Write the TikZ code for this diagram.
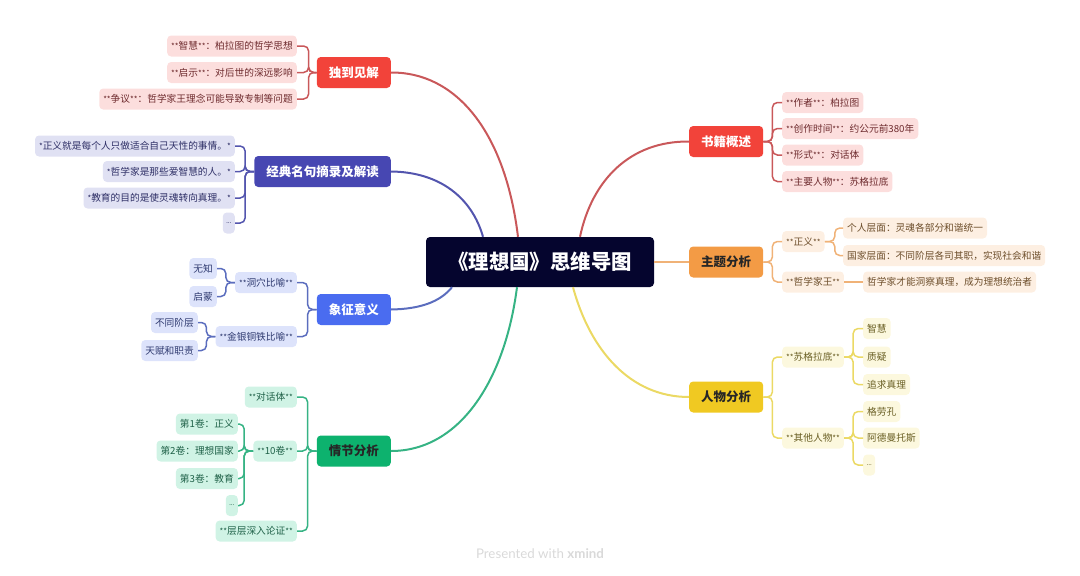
\documentclass[tikz,border=0pt]{standalone}
\usepackage{fontspec}
\setmainfont{Noto Sans CJK SC}
\newfontfamily\latinfont{Lato}
\newcommand{\mk}{{\fontsize{8}{12}\selectfont **}}
\newcommand{\sk}{{\fontsize{8}{12}\selectfont *}}
\definecolor{rootcol}{HTML}{05052E}
\definecolor{redcol}{HTML}{F2433A}
\definecolor{redline}{HTML}{C9585A}
\definecolor{redleafcol}{HTML}{FCDEDD}
\definecolor{redtext}{HTML}{6E2B2E}
\definecolor{indigocol}{HTML}{4747B2}
\definecolor{indigoline}{HTML}{5355AE}
\definecolor{indigoleafcol}{HTML}{E0E1F3}
\definecolor{indigotext}{HTML}{2E2F66}
\definecolor{bluecol}{HTML}{4A6CF0}
\definecolor{blueline}{HTML}{5B6DBE}
\definecolor{blueleafcol}{HTML}{DDE3FB}
\definecolor{bluetext}{HTML}{2F3A70}
\definecolor{greencol}{HTML}{0DB26E}
\definecolor{greenline}{HTML}{36B384}
\definecolor{greenleafcol}{HTML}{D0F3E5}
\definecolor{greentext}{HTML}{1F6148}
\definecolor{orangecol}{HTML}{F39B45}
\definecolor{orangeline}{HTML}{F0B277}
\definecolor{orangeleafcol}{HTML}{FDEFE2}
\definecolor{orangetext}{HTML}{6E4F2C}
\definecolor{yellowcol}{HTML}{F0C922}
\definecolor{yellowline}{HTML}{EBD964}
\definecolor{yellowleafcol}{HTML}{FCF8DE}
\definecolor{yellowtext}{HTML}{6A5F24}
\tikzset{
  topic/.style={rounded corners=4pt,minimum height=31pt,inner xsep=12pt,inner ysep=0pt,
    font=\fontsize{12.5}{14}\selectfont\bfseries},
  leaf/.style={rounded corners=4pt,minimum height=21pt,inner xsep=4pt,inner ysep=0pt,
    font=\fontsize{9.7}{12}\selectfont},
  dots/.style={leaf,inner xsep=1pt,minimum width=12pt,font=\fontsize{6.5}{12}\selectfont\latinfont},
  redleaf/.style={fill=redleafcol,text=redtext},
  indigoleaf/.style={fill=indigoleafcol,text=indigotext},
  blueleaf/.style={fill=blueleafcol,text=bluetext},
  greenleaf/.style={fill=greenleafcol,text=greentext},
  orangeleaf/.style={fill=orangeleafcol,text=orangetext},
  yellowleaf/.style={fill=yellowleafcol,text=yellowtext},
  branch/.style={line width=2pt},
  twig/.style={line width=1.5pt,rounded corners=5pt},
}
\begin{document}
\begin{tikzpicture}[x=1pt,y=-1pt]
   \useasboundingbox (0,0) rectangle (1080,576);

   % 中心
   \node [fill=rootcol,text=white,rounded corners=4pt,minimum width=228pt,minimum height=50pt,
     font=\fontsize{20.4}{24}\selectfont\bfseries] (root) at (540,262) {《理想国》思维导图};

   % 主题
   \node [topic,fill=redcol,text=white,anchor=east] (dujian) at (391,72.5) {独到见解};
   \node [topic,fill=indigocol,text=white,anchor=east] (jingdian) at (391,171.5) {经典名句摘录及解读};
   \node [topic,fill=bluecol,text=white,anchor=east] (xiangzheng) at (391,309.5) {象征意义};
   \node [topic,fill=greencol,text=black!85,anchor=east] (qingjie) at (391,451) {情节分析};
   \node [topic,fill=redcol,text=white,anchor=west] (shuji) at (689,141.5) {书籍概述};
   \node [topic,fill=orangecol,text=black!85,anchor=west] (zhuti) at (689,262) {主题分析};
   \node [topic,fill=yellowcol,text=black!85,anchor=west] (renwu) at (689,397) {人物分析};

   % 主干
   \draw [branch,redline] (dujian.east) .. controls (455,72) and (505,130) .. ([xshift=-22pt]root.north);
   \draw [branch,indigoline] (jingdian.east) .. controls (440,172) and (472,198) .. ([xshift=-57pt]root.north);
   \draw [branch,blueline] (xiangzheng.east) .. controls (420,309) and (440,302) .. ([xshift=-88pt]root.south);
   \draw [branch,greenline] (qingjie.east) .. controls (460,451) and (505,380) .. ([xshift=-23pt]root.south);
   \draw [branch,redline] (shuji.west) .. controls (630,141) and (592,180) .. ([xshift=40pt]root.north);
   \draw [branch,orangeline] (zhuti.west) -- (root.east);
   \draw [branch,yellowline] (renwu.west) .. controls (630,397) and (590,350) .. ([xshift=33pt]root.south);

   % 独到见解
   \node [leaf,redleaf,anchor=east] (zhihui) at (297,46) {\mk 智慧\mk ：柏拉图的哲学思想};
   \node [leaf,redleaf,anchor=east] (qishi) at (297,72.5) {\mk 启示\mk ：对后世的深远影响};
   \node [leaf,redleaf,anchor=east] (zhengyi) at (297,99) {\mk 争议\mk ：哲学家王理念可能导致专制等问题};
   \foreach \c in {zhihui,qishi,zhengyi}
     \draw [twig,redline] (dujian.west) -- ++(-8,0) |- (\c.east);

   % 经典名句
   \node [leaf,indigoleaf,anchor=east] (juone) at (235,146) {\sk 正义就是每个人只做适合自己天性的事情。\sk};
   \node [leaf,indigoleaf,anchor=east] (jutwo) at (235,171.5) {\sk 哲学家是那些爱智慧的人。\sk};
   \node [leaf,indigoleaf,anchor=east] (juthree) at (235,198) {\sk 教育的目的是使灵魂转向真理。\sk};
   \node [dots,indigoleaf,anchor=east] (judots) at (235,223) {…};
   \foreach \c in {juone,jutwo,juthree,judots}
     \draw [twig,indigoline] (jingdian.west) -- ++(-9,0) |- (\c.east);

   % 象征意义
   \node [leaf,blueleaf,anchor=east] (dongxue) at (297,282.5) {\mk 洞穴比喻\mk};
   \node [leaf,blueleaf,anchor=east] (jinyin) at (297,336.5) {\mk 金银铜铁比喻\mk};
   \node [leaf,blueleaf,anchor=east] (wuzhi) at (217,268.5) {无知};
   \node [leaf,blueleaf,anchor=east] (qimeng) at (217,296.5) {启蒙};
   \node [leaf,blueleaf,anchor=east] (jieceng) at (198,322.5) {不同阶层};
   \node [leaf,blueleaf,anchor=east] (tianfu) at (198,350.5) {天赋和职责};
   \foreach \c in {dongxue,jinyin}
     \draw [twig,blueline] (xiangzheng.west) -- ++(-9,0) |- (\c.east);
   \foreach \c in {wuzhi,qimeng}
     \draw [twig,blueline] (dongxue.west) -- ++(-9,0) |- (\c.east);
   \foreach \c in {jieceng,tianfu}
     \draw [twig,blueline] (jinyin.west) -- ++(-9,0) |- (\c.east);

   % 情节分析
   \node [leaf,greenleaf,anchor=east] (duihua) at (297,397) {\mk 对话体\mk};
   \node [leaf,greenleaf,anchor=east] (shijuan) at (297,451) {\mk 10卷\mk};
   \node [leaf,greenleaf,anchor=east] (cengceng) at (297,531) {\mk 层层深入论证\mk};
   \node [leaf,greenleaf,anchor=east] (juanone) at (238,424) {第1卷：正义};
   \node [leaf,greenleaf,anchor=east] (juantwo) at (238,451) {第2卷：理想国家};
   \node [leaf,greenleaf,anchor=east] (juanthree) at (238,478.5) {第3卷：教育};
   \node [dots,greenleaf,anchor=east] (juandots) at (238,505.5) {…};
   \foreach \c in {duihua,shijuan,cengceng}
     \draw [twig,greenline] (qingjie.west) -- ++(-9,0) |- (\c.east);
   \foreach \c in {juanone,juantwo,juanthree,juandots}
     \draw [twig,greenline] (shijuan.west) -- ++(-9,0) |- (\c.east);

   % 书籍概述
   \node [leaf,redleaf,anchor=west] (zuozhe) at (782,102.5) {\mk 作者\mk ：柏拉图};
   \node [leaf,redleaf,anchor=west] (shijian) at (782,128.5) {\mk 创作时间\mk ：约公元前380年};
   \node [leaf,redleaf,anchor=west] (xingshi) at (782,155) {\mk 形式\mk ：对话体};
   \node [leaf,redleaf,anchor=west] (zhuyao) at (782,181.5) {\mk 主要人物\mk ：苏格拉底};
   \foreach \c in {zuozhe,shijian,xingshi,zhuyao}
     \draw [twig,redline] (shuji.east) -- ++(9,0) |- (\c.west);

   % 主题分析
   \node [leaf,orangeleaf,anchor=west] (zhengyitwo) at (782,241.5) {\mk 正义\mk};
   \node [leaf,orangeleaf,anchor=west] (zhexue) at (782,282) {\mk 哲学家王\mk};
   \node [leaf,orangeleaf,anchor=west] (geren) at (843,228) {个人层面：灵魂各部分和谐统一};
   \node [leaf,orangeleaf,anchor=west] (guojia) at (843,255.5) {国家层面：不同阶层各司其职，实现社会和谐};
   \node [leaf,orangeleaf,anchor=west] (dongcha) at (863,282) {哲学家才能洞察真理，成为理想统治者};
   \foreach \c in {zhengyitwo,zhexue}
     \draw [twig,orangeline] (zhuti.east) -- ++(9,0) |- (\c.west);
   \foreach \c in {geren,guojia}
     \draw [twig,orangeline] (zhengyitwo.east) -- ++(10,0) |- (\c.west);
   \draw [twig,orangeline] (zhexue.east) -- (dongcha.west);

   % 人物分析
   \node [leaf,yellowleaf,anchor=west] (sugela) at (782,357) {\mk 苏格拉底\mk};
   \node [leaf,yellowleaf,anchor=west] (qita) at (782,438) {\mk 其他人物\mk};
   \node [leaf,yellowleaf,anchor=west] (zhihuitwo) at (863,328.5) {智慧};
   \node [leaf,yellowleaf,anchor=west] (zhiyi) at (863,357) {质疑};
   \node [leaf,yellowleaf,anchor=west] (zhuiqiu) at (863,384.5) {追求真理};
   \node [leaf,yellowleaf,anchor=west] (gelao) at (863,411.5) {格劳孔};
   \node [leaf,yellowleaf,anchor=west] (ademan) at (863,438) {阿德曼托斯};
   \node [dots,yellowleaf,anchor=west] (qitadots) at (863,465) {…};
   \foreach \c in {sugela,qita}
     \draw [twig,yellowline] (renwu.east) -- ++(9,0) |- (\c.west);
   \foreach \c in {zhihuitwo,zhiyi,zhuiqiu}
     \draw [twig,yellowline] (sugela.east) -- ++(9,0) |- (\c.west);
   \foreach \c in {gelao,ademan,qitadots}
     \draw [twig,yellowline] (qita.east) -- ++(9,0) |- (\c.west);

   % 水印
   \node [text=black!15,font=\fontsize{13.3}{15}\selectfont\latinfont] (mark) at (540,554) {Presented with \textbf{xmind}};
\end{tikzpicture}
\end{document}
